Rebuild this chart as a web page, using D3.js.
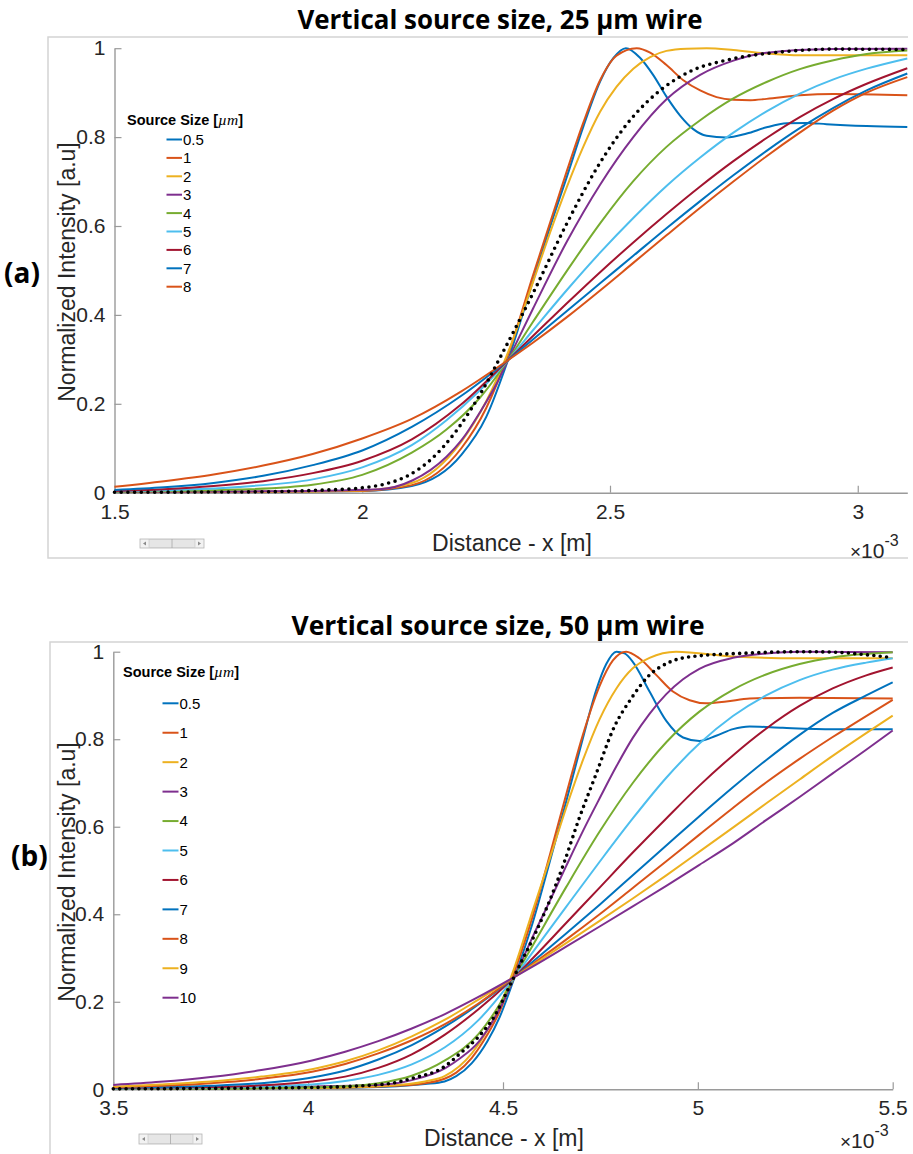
<!DOCTYPE html>
<html>
<head>
<meta charset="utf-8">
<script src="https://cdn.jsdelivr.net/npm/d3@7"></script>
<style>
  body { margin: 0; background: #fff; }
  svg { display: block; }
</style>
</head>
<body>
<svg id="fig" width="913" height="1154"></svg>
<script>
// ---------- Panel (a): 25 µm wire, x in units of 1e-3 m ----------
const sizesA = ["0.5", "1", "2", "3", "4", "5", "6", "7", "8"];
const xTicksA = [1.5, 2, 2.5, 3];
const a_05 = [[1.5,0.002],[1.8,0.002],[2.0,0.004],[2.1,0.015],[2.2,0.085],[2.25,0.17],[2.294,0.298],[2.345,0.478],[2.379,0.598],[2.413,0.711],[2.446,0.823],[2.48,0.925],[2.507,0.978],[2.532,1.0],[2.561,0.978],[2.587,0.94],[2.614,0.891],[2.641,0.849],[2.668,0.818],[2.695,0.803],[2.735,0.799],[2.776,0.808],[2.816,0.822],[2.857,0.831],[2.897,0.832],[2.937,0.829],[3.018,0.825],[3.1,0.823]];
const a_1 = [[1.5,0.002],[1.8,0.002],[2.0,0.004],[2.1,0.017],[2.2,0.1],[2.25,0.19],[2.294,0.31],[2.345,0.49],[2.379,0.607],[2.413,0.724],[2.446,0.832],[2.48,0.928],[2.513,0.983],[2.554,1.0],[2.581,0.99],[2.614,0.962],[2.648,0.928],[2.682,0.905],[2.715,0.89],[2.749,0.884],[2.783,0.883],[2.816,0.886],[2.883,0.894],[2.951,0.897],[3.1,0.894]];
const a_2 = [[1.5,0.002],[1.8,0.002],[2.0,0.005],[2.1,0.022],[2.2,0.115],[2.25,0.205],[2.294,0.315],[2.345,0.475],[2.379,0.585],[2.413,0.688],[2.446,0.778],[2.48,0.857],[2.513,0.913],[2.547,0.954],[2.581,0.98],[2.614,0.994],[2.655,0.999],[2.695,1.0],[2.749,0.996],[2.816,0.988],[2.883,0.984],[3.1,0.984]];
const a_3 = [[1.5,0.002],[1.8,0.003],[2.035,0.008],[2.102,0.028],[2.17,0.081],[2.203,0.122],[2.237,0.18],[2.271,0.245],[2.294,0.298],[2.345,0.415],[2.413,0.565],[2.48,0.693],[2.547,0.8],[2.614,0.885],[2.682,0.94],[2.749,0.972],[2.816,0.99],[2.951,0.998],[3.1,0.999]];
const a_4 = [[1.5,0.002],[1.75,0.007],[1.9,0.018],[2.0,0.04],[2.1,0.09],[2.17,0.142],[2.237,0.213],[2.294,0.298],[2.345,0.385],[2.413,0.499],[2.48,0.606],[2.547,0.701],[2.614,0.778],[2.682,0.838],[2.749,0.887],[2.816,0.924],[2.883,0.953],[2.951,0.973],[3.018,0.987],[3.1,0.995]];
const a_5 = [[1.5,0.003],[1.75,0.013],[1.9,0.03],[2.0,0.057],[2.1,0.107],[2.17,0.163],[2.237,0.23],[2.294,0.298],[2.345,0.366],[2.413,0.456],[2.48,0.54],[2.547,0.618],[2.614,0.69],[2.682,0.754],[2.749,0.81],[2.816,0.858],[2.883,0.898],[2.951,0.93],[3.018,0.954],[3.1,0.977]];
const a_6 = [[1.5,0.004],[1.6,0.008],[1.7,0.015],[1.8,0.026],[1.9,0.044],[2.0,0.072],[2.1,0.12],[2.2,0.199],[2.294,0.298],[2.345,0.353],[2.413,0.426],[2.48,0.496],[2.547,0.563],[2.614,0.627],[2.682,0.689],[2.749,0.746],[2.816,0.798],[2.883,0.845],[2.951,0.886],[3.018,0.92],[3.1,0.955]];
const a_7 = [[1.5,0.006],[1.6,0.012],[1.7,0.022],[1.8,0.038],[1.9,0.062],[2.0,0.095],[2.1,0.148],[2.2,0.218],[2.294,0.298],[2.345,0.345],[2.413,0.409],[2.48,0.471],[2.547,0.533],[2.614,0.595],[2.682,0.656],[2.749,0.714],[2.816,0.769],[2.883,0.82],[2.951,0.866],[3.018,0.905],[3.1,0.943]];
const a_8 = [[1.5,0.0135],[1.6,0.026],[1.7,0.041],[1.8,0.061],[1.9,0.087],[2.0,0.122],[2.1,0.166],[2.2,0.228],[2.294,0.298],[2.345,0.338],[2.413,0.395],[2.48,0.455],[2.547,0.517],[2.614,0.579],[2.682,0.641],[2.749,0.7],[2.816,0.757],[2.883,0.81],[2.951,0.86],[3.018,0.9],[3.1,0.935]];
const a_ref = [[1.5,0.001],[1.8,0.002],[1.9,0.005],[2.0,0.011],[2.04,0.018],[2.088,0.036],[2.139,0.075],[2.191,0.141],[2.243,0.231],[2.281,0.31],[2.32,0.394],[2.347,0.454],[2.413,0.606],[2.476,0.735],[2.542,0.84],[2.608,0.911],[2.668,0.951],[2.735,0.973],[2.85,0.992],[2.951,0.998],[3.1,0.997]];

// ---------- Panel (b): 50 µm wire ----------
const sizesB = ["0.5", "1", "2", "3", "4", "5", "6", "7", "8", "9", "10"];
const xTicksB = [3.5, 4, 4.5, 5, 5.5];
const b_05 = [[3.5,0.002],[4.0,0.003],[4.2,0.006],[4.3,0.012],[4.35,0.018],[4.38,0.03],[4.42,0.06],[4.46,0.11],[4.4915,0.165],[4.53,0.257],[4.577,0.383],[4.62,0.52],[4.662,0.657],[4.705,0.802],[4.739,0.912],[4.765,0.972],[4.791,1.0],[4.812,0.996],[4.833,0.977],[4.876,0.909],[4.919,0.842],[4.962,0.804],[5.004,0.796],[5.047,0.808],[5.09,0.823],[5.133,0.829],[5.218,0.826],[5.346,0.823],[5.5,0.823]];
const b_1 = [[3.5,0.002],[4.0,0.003],[4.2,0.007],[4.3,0.014],[4.35,0.024],[4.38,0.038],[4.42,0.072],[4.46,0.125],[4.4915,0.178],[4.53,0.27],[4.577,0.398],[4.62,0.535],[4.662,0.673],[4.705,0.81],[4.748,0.922],[4.782,0.98],[4.816,1.0],[4.85,0.985],[4.893,0.947],[4.936,0.909],[4.979,0.889],[5.021,0.882],[5.073,0.886],[5.133,0.893],[5.261,0.895],[5.5,0.893]];
const b_2 = [[3.5,0.002],[4.0,0.003],[4.2,0.008],[4.3,0.018],[4.35,0.03],[4.42,0.082],[4.46,0.135],[4.4915,0.19],[4.53,0.28],[4.577,0.41],[4.62,0.527],[4.662,0.643],[4.705,0.752],[4.748,0.846],[4.791,0.916],[4.833,0.962],[4.876,0.986],[4.944,1.0],[5.09,0.989],[5.26,0.985],[5.5,0.985]];
const b_3 = [[3.5,0.001],[4.18,0.01],[4.266,0.021],[4.351,0.048],[4.39,0.071],[4.437,0.108],[4.48,0.165],[4.53,0.257],[4.577,0.35],[4.62,0.43],[4.662,0.51],[4.705,0.59],[4.748,0.665],[4.791,0.738],[4.833,0.803],[4.876,0.858],[4.919,0.903],[4.962,0.937],[5.004,0.961],[5.09,0.986],[5.175,0.996],[5.261,1.0],[5.5,0.999]];
const b_4 = [[3.5,0.001],[3.8,0.002],[4.1,0.007],[4.18,0.014],[4.266,0.031],[4.351,0.066],[4.437,0.126],[4.485,0.185],[4.53,0.257],[4.577,0.33],[4.662,0.462],[4.748,0.589],[4.833,0.7],[4.919,0.793],[5.004,0.863],[5.09,0.913],[5.175,0.948],[5.261,0.972],[5.346,0.987],[5.432,0.995],[5.5,0.999]];
const b_5 = [[3.5,0.002],[3.75,0.004],[4.01,0.011],[4.095,0.019],[4.18,0.033],[4.266,0.057],[4.351,0.096],[4.437,0.158],[4.53,0.257],[4.577,0.314],[4.662,0.417],[4.748,0.52],[4.833,0.619],[4.919,0.712],[5.004,0.79],[5.09,0.853],[5.175,0.9],[5.261,0.935],[5.346,0.959],[5.432,0.975],[5.5,0.985]];
const b_6 = [[3.5,0.003],[3.75,0.005],[3.88,0.009],[4.01,0.018],[4.095,0.029],[4.18,0.049],[4.266,0.08],[4.351,0.125],[4.437,0.183],[4.53,0.257],[4.577,0.3],[4.662,0.38],[4.748,0.461],[4.833,0.541],[4.919,0.619],[5.004,0.694],[5.09,0.763],[5.175,0.824],[5.261,0.876],[5.346,0.916],[5.432,0.946],[5.5,0.964]];
const b_7 = [[3.5,0.004],[3.62,0.005],[3.75,0.008],[3.88,0.014],[4.01,0.027],[4.095,0.043],[4.18,0.068],[4.266,0.101],[4.351,0.143],[4.437,0.194],[4.53,0.257],[4.577,0.292],[4.662,0.356],[4.748,0.422],[4.833,0.489],[4.919,0.557],[5.004,0.624],[5.09,0.69],[5.175,0.752],[5.261,0.81],[5.346,0.86],[5.432,0.9],[5.5,0.93]];
const b_8 = [[3.5,0.005],[3.62,0.008],[3.75,0.014],[3.88,0.024],[4.01,0.04],[4.095,0.058],[4.18,0.082],[4.266,0.112],[4.351,0.149],[4.437,0.196],[4.53,0.257],[4.577,0.287],[4.662,0.342],[4.748,0.4],[4.833,0.46],[4.919,0.521],[5.004,0.582],[5.09,0.643],[5.175,0.701],[5.261,0.755],[5.346,0.805],[5.432,0.853],[5.5,0.89]];
const b_9 = [[3.5,0.006],[3.62,0.011],[3.75,0.018],[3.88,0.029],[4.01,0.046],[4.095,0.064],[4.18,0.089],[4.266,0.121],[4.351,0.159],[4.437,0.205],[4.53,0.257],[4.577,0.284],[4.662,0.334],[4.748,0.385],[4.833,0.436],[4.919,0.489],[5.004,0.543],[5.09,0.598],[5.175,0.653],[5.261,0.708],[5.346,0.762],[5.432,0.814],[5.5,0.854]];
const b_10 = [[3.5,0.01],[3.62,0.017],[3.75,0.028],[3.88,0.044],[4.01,0.066],[4.095,0.086],[4.18,0.11],[4.266,0.139],[4.351,0.172],[4.437,0.211],[4.53,0.257],[4.577,0.281],[4.662,0.326],[4.748,0.372],[4.833,0.418],[4.919,0.465],[5.004,0.513],[5.09,0.562],[5.175,0.615],[5.261,0.668],[5.346,0.722],[5.432,0.776],[5.5,0.82]];
const b_ref = [[3.5,0.001],[4.0,0.004],[4.2,0.012],[4.266,0.025],[4.35,0.052],[4.39,0.082],[4.437,0.12],[4.48,0.17],[4.51,0.223],[4.543,0.284],[4.577,0.345],[4.615,0.421],[4.656,0.516],[4.695,0.618],[4.737,0.716],[4.786,0.829],[4.829,0.893],[4.872,0.943],[4.927,0.976],[4.987,0.989],[5.132,0.997],[5.261,1.0],[5.346,0.999],[5.432,0.993],[5.5,0.986]];

const yTicks = [0, 0.2, 0.4, 0.6, 0.8, 1];
// MATLAB default line colour order
const colorOrder = ["#0072BD", "#D95319", "#EDB120", "#7E2F8E", "#77AC30", "#4DBEEE", "#A2142F"];

const svg = d3.select("#fig");
const SANS = "'Liberation Sans', Arial, Helvetica, sans-serif";
const TITLE_FONT = "'Open Sans', 'Noto Sans', sans-serif";

function drawPanel(p) {
  const g = svg.append("g");
  const x = d3.scaleLinear().domain(p.xDomain).range(p.xRange);
  const y = d3.scaleLinear().domain([0, 1]).range(p.yRange);

  // light frame around the panel
  const fr = p.frame;
  g.append("path")
    .attr("d", `M${fr.right},${fr.top} H${fr.left} V${fr.bottom}` + (fr.closeBottom ? ` H${fr.right}` : ""))
    .attr("fill", "none").attr("stroke", "#d4d4d4").attr("stroke-width", 1.5);

  // title
  g.append("text")
    .attr("x", p.titleX).attr("y", p.titleY)
    .attr("text-anchor", "middle")
    .attr("font-family", TITLE_FONT).attr("font-weight", 700).attr("font-size", 27)
    .attr("textLength", p.titleLen).attr("lengthAdjust", "spacingAndGlyphs")
    .attr("fill", "#000")
    .text(p.title);

  // panel tag
  g.append("text")
    .attr("x", p.tagX).attr("y", p.tagY)
    .attr("font-family", TITLE_FONT).attr("font-weight", 700).attr("font-size", 28)
    .attr("fill", "#000").text(p.tag);

  // axes (ticks point inward)
  const xAxis = d3.axisBottom(x).tickValues(p.xTicks).tickFormat(d3.format("~g"))
    .tickSizeInner(-7).tickSizeOuter(0).tickPadding(11);
  const yAxis = d3.axisLeft(y).tickValues(yTicks).tickFormat(d3.format("~g"))
    .tickSizeInner(-7).tickSizeOuter(0).tickPadding(9);

  const gx = g.append("g").attr("transform", `translate(0,${p.yRange[0]})`).call(xAxis);
  const gy = g.append("g").attr("transform", `translate(${p.xRange[0]},0)`).call(yAxis);
  [gx, gy].forEach(ax => {
    ax.attr("font-family", SANS).attr("font-size", 21);
    ax.select(".domain").attr("stroke", "#9a9a9a").attr("stroke-width", 1.4);
    ax.selectAll(".tick line").attr("stroke", "#9a9a9a").attr("stroke-width", 1.2);
    ax.selectAll(".tick text").attr("fill", "#262626");
  });

  // axis labels
  g.append("text")
    .attr("x", p.xLabelX).attr("y", p.xLabelY).attr("text-anchor", "middle")
    .attr("font-family", SANS).attr("font-size", 23).attr("fill", "#262626")
    .text("Distance - x [m]");
  g.append("text")
    .attr("transform", `translate(${p.yLabelX},${p.yLabelY}) rotate(-90)`)
    .attr("text-anchor", "middle")
    .attr("font-family", SANS).attr("font-size", 23).attr("fill", "#262626")
    .text("Normalized Intensity [a.u]");

  // exponent marker
  const ex = g.append("text").attr("x", p.expX).attr("y", p.expY)
    .attr("font-family", SANS).attr("font-size", 21).attr("fill", "#262626");
  ex.append("tspan").attr("font-size", 19).text("\u00D7");
  ex.append("tspan").text("10");
  ex.append("tspan").attr("dy", -12).attr("font-size", 16).text("-3");

  // small horizontal slider widget
  const sw = p.slider;
  const sg = g.append("g").attr("transform", `translate(${sw.x},${sw.y})`);
  sg.append("rect").attr("width", sw.w).attr("height", sw.h)
    .attr("fill", "#f2f2f2").attr("stroke", "#b5b5b5").attr("stroke-width", 0.8);
  sg.append("rect").attr("x", 9).attr("y", 0.5).attr("width", sw.w - 18).attr("height", sw.h - 1)
    .attr("fill", "#e6e6e6").attr("stroke", "#c4c4c4").attr("stroke-width", 0.6);
  sg.append("line").attr("x1", sw.w / 2).attr("x2", sw.w / 2).attr("y1", 0).attr("y2", sw.h)
    .attr("stroke", "#a8a8a8").attr("stroke-width", 0.8);
  sg.append("path").attr("d", `M3,${sw.h / 2} l3,-2 v4 z`).attr("fill", "#8a8a8a");
  sg.append("path").attr("d", `M${sw.w - 3},${sw.h / 2} l-3,-2 v4 z`).attr("fill", "#8a8a8a");

  // curves
  const line = d3.line().x(d => x(d[0])).y(d => y(d[1])).curve(d3.curveMonotoneX);
  p.series.forEach((s, i) => {
    g.append("path").attr("d", line(s))
      .attr("fill", "none").attr("stroke", colorOrder[i % colorOrder.length])
      .attr("stroke-width", 2).attr("stroke-linejoin", "round");
  });
  // reference curve, dotted
  g.append("path").attr("d", line(p.ref))
    .attr("fill", "none").attr("stroke", "#000").attr("stroke-width", 3.6)
    .attr("stroke-linecap", "round").attr("stroke-dasharray", `0 ${p.dotGap}`);

  // legend
  const lg = p.legend;
  const lt = g.append("text").attr("x", lg.x).attr("y", lg.titleY)
    .attr("font-family", SANS).attr("font-size", 14.5).attr("fill", "#000");
  lt.append("tspan").attr("font-weight", 700).text("Source Size [");
  lt.append("tspan").attr("font-family", "'Liberation Serif', 'DejaVu Serif', serif")
    .attr("font-style", "italic").attr("font-size", 15.5).text("\u00B5m");
  lt.append("tspan").attr("font-weight", 700).text("]");

  p.labels.forEach((lab, i) => {
    const yy = lg.y0 + i * lg.step;
    g.append("line").attr("x1", lg.lineX0).attr("x2", lg.lineX1).attr("y1", yy).attr("y2", yy)
      .attr("stroke", colorOrder[i % colorOrder.length]).attr("stroke-width", 2);
    g.append("text").attr("x", lg.lineX1 + 1).attr("y", yy + 5.4)
      .attr("font-family", SANS).attr("font-size", 15).attr("fill", "#000").text(lab);
  });
}

drawPanel({
  title: "Vertical source size, 25 \u00B5m wire", titleX: 500, titleY: 29, titleLen: 405,
  tag: "(a)", tagX: 4, tagY: 283,
  xDomain: [1.5, 3.1], xRange: [114.5, 907.3], yRange: [492.7, 48.2],
  xTicks: xTicksA,
  frame: { left: 48, top: 37, right: 908, bottom: 558, closeBottom: true },
  xLabelX: 512, xLabelY: 551, yLabelX: 75, yLabelY: 272,
  expX: 850, expY: 558,
  slider: { x: 140, y: 539, w: 64, h: 9 },
  series: [a_05, a_1, a_2, a_3, a_4, a_5, a_6, a_7, a_8], ref: a_ref, dotGap: 6.7,
  labels: sizesA,
  legend: { x: 127, titleY: 125, y0: 139.5, step: 18.4, lineX0: 166.5, lineX1: 182 }
});

drawPanel({
  title: "Vertical source size, 50 \u00B5m wire", titleX: 498, titleY: 635, titleLen: 413,
  tag: "(b)", tagX: 11, tagY: 866,
  xDomain: [3.5, 5.5], xRange: [113.3, 892.7], yRange: [1089.3, 651.7],
  xTicks: xTicksB,
  frame: { left: 50, top: 642, right: 908, bottom: 1154, closeBottom: false },
  xLabelX: 504, xLabelY: 1146, yLabelX: 75, yLabelY: 872,
  expX: 840, expY: 1148,
  slider: { x: 139, y: 1134, w: 63, h: 10 },
  series: [b_05, b_1, b_2, b_3, b_4, b_5, b_6, b_7, b_8, b_9, b_10], ref: b_ref, dotGap: 6.4,
  labels: sizesB,
  legend: { x: 123, titleY: 677, y0: 703.3, step: 29.44, lineX0: 162.5, lineX1: 178.5 }
});
</script>
</body>
</html>
